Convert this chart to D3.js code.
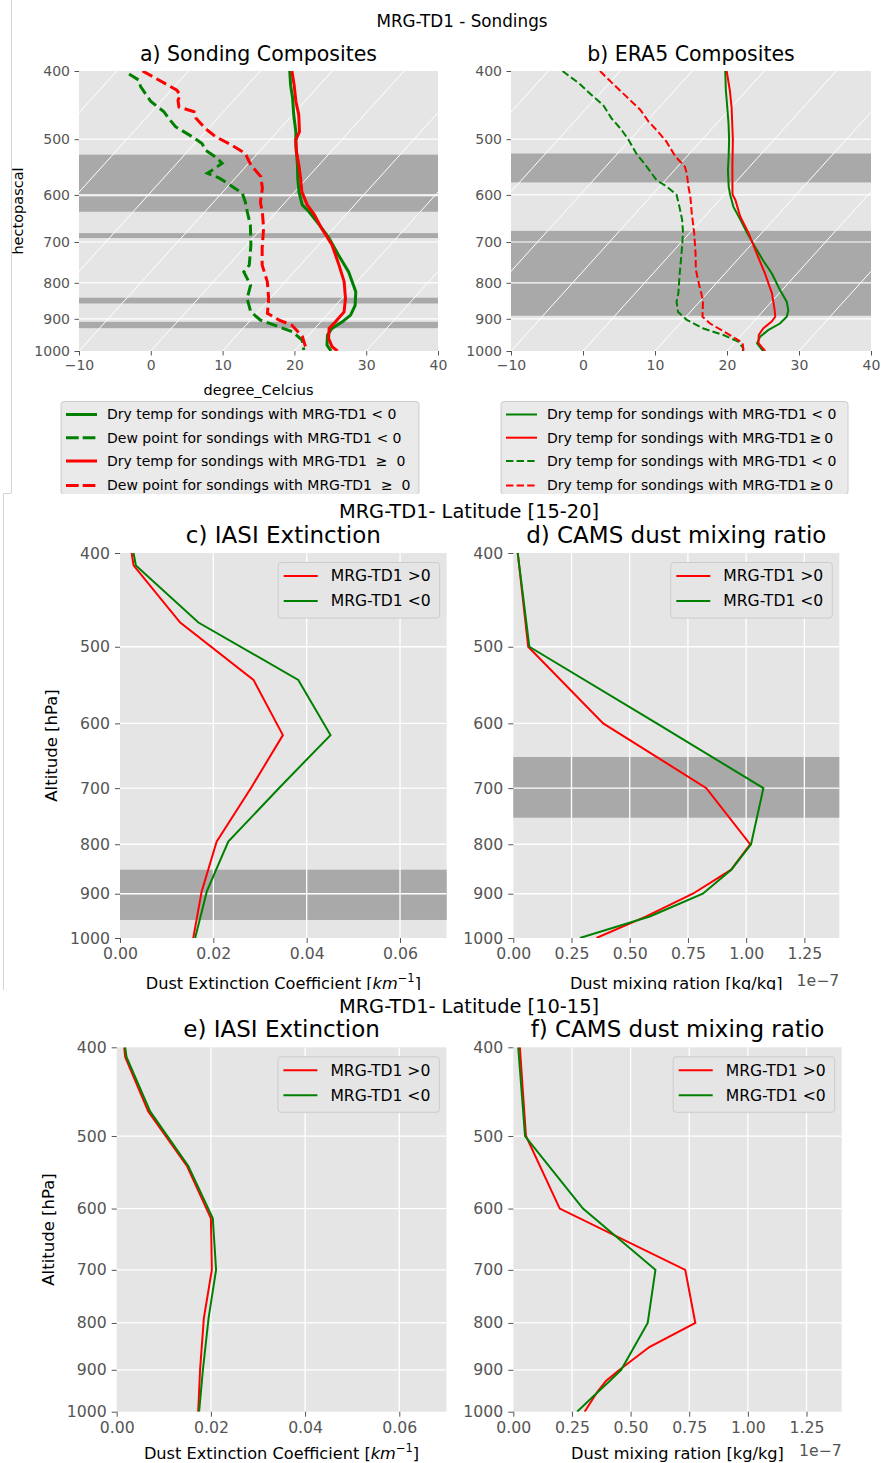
<!DOCTYPE html>
<html><head><meta charset="utf-8">
<script src="https://cdn.jsdelivr.net/npm/d3@7"></script>
<style>
body{margin:0;background:#fff}
text{font-family:"DejaVu Sans",sans-serif}
</style></head>
<body><svg id="chart" width="881" height="1463"></svg>
<script>
// ---------------- DATA ----------------
const pTicks = [400, 500, 600, 700, 800, 900, 1000];
const tTicks = [-10, 0, 10, 20, 30, 40];
const isoTemps = [-40, -30, -20, -10, 0, 10, 20, 30, 40];
const extTicks = [0, 0.02, 0.04, 0.06];
const mixTicks = [0, 0.25e-7, 0.5e-7, 0.75e-7, 1.0e-7, 1.25e-7];

// a) Sonding composites (pressure hPa, temperature °C)
const aDryGreenP = [400, 419, 437, 462, 488, 510, 544, 568, 594, 620, 634, 662, 691, 731, 772, 824, 861, 889, 909, 929, 949, 981, 1000];
const aDryGreenT = [-15.9, -14.0, -12.1, -9.8, -7.4, -5.7, -3.0, -1.3, 0.6, 2.7, 4.5, 7.6, 10.6, 14.1, 17.6, 21.1, 22.7, 23.3, 23.0, 22.4, 22.6, 23.8, 25.1];
const aDewGreenP = [404, 412, 421, 442, 457, 467, 480, 496, 507, 518, 530, 541, 553, 559, 568, 584, 597, 614, 634, 662, 707, 755, 772, 806, 842, 880, 904, 924, 939, 965, 997];
const aDewGreenT = [-37.9, -35.8, -34.7, -31.4, -28.3, -26.8, -24.8, -21.2, -19.0, -17.7, -15.4, -13.7, -14.2, -14.5, -12.2, -9.3, -7.1, -5.6, -4.1, -2.0, 0.6, 2.9, 3.0, 5.6, 6.8, 9.0, 11.4, 14.8, 17.3, 19.7, 21.2];
const aDryRedP = [400, 419, 442, 462, 488, 501, 521, 544, 568, 594, 620, 640, 670, 707, 755, 797, 842, 880, 909, 929, 960, 986, 1000];
const aDryRedT = [-15.6, -13.5, -11.2, -9.1, -6.9, -6.4, -4.8, -2.8, -0.9, 1.0, 3.4, 5.6, 8.4, 11.9, 15.4, 18.2, 20.5, 22.0, 22.05, 22.0, 23.2, 24.7, 26.0];
const aDewRedP = [400, 412, 426, 433, 440, 450, 457, 467, 483, 496, 510, 524, 544, 565, 587, 614, 640, 670, 715, 755, 797, 842, 884, 904, 919, 954, 986, 1000];
const aDewRedT = [-36.4, -33.0, -29.2, -28.1, -27.8, -26.8, -24.1, -23.0, -20.4, -17.95, -14.6, -11.7, -9.5, -6.65, -4.95, -3.5, -1.6, 0.3, 2.6, 4.7, 7.5, 9.8, 11.5, 14.0, 16.4, 19.3, 21.0, 21.5];
const aBands = [[526, 600], [603, 634], [680, 691], [840, 856], [909, 928]];

// b) ERA5 composites
const bDryGreenP = [400, 426, 450, 475, 500, 529, 553, 584, 600, 624, 651, 680, 711, 743, 776, 819, 851, 875, 894, 914, 934, 954, 975, 1000];
const bDryGreenT = [-15.4, -12.9, -10.6, -8.35, -6.3, -4.2, -2.6, -0.4, 0.84, 2.8, 5.4, 8.0, 10.8, 13.6, 16.5, 19.7, 22.1, 23.4, 24.0, 23.9, 23.1, 22.8, 23.2, 25.0];
const bDryRedP = [400, 426, 450, 501, 547, 599, 610, 644, 680, 727, 776, 828, 875, 894, 908, 929, 949, 975, 1000];
const bDryRedT = [-15.2, -12.35, -10.0, -5.7, -2.4, 1.1, 2.2, 4.95, 8.2, 11.9, 15.55, 19.0, 21.5, 22.4, 22.5, 22.2, 22.4, 23.4, 25.3];
const bDewGreenP = [400, 417, 435, 447, 467, 485, 501, 524, 547, 572, 584, 600, 624, 651, 680, 727, 776, 828, 851, 880, 903, 929, 949, 970, 991, 1000];
const bDewGreenT = [-38.0, -34.05, -30.5, -28.1, -25.25, -22.4, -20.2, -17.4, -14.3, -11.2, -9.0, -6.6, -4.7, -2.7, -0.9, 1.45, 3.7, 6.0, 6.8, 8.3, 10.5, 13.9, 17.5, 20.4, 21.9, 22.2];
const bDewRedP = [400, 417, 435, 454, 472, 488, 504, 529, 547, 559, 584, 603, 637, 680, 727, 767, 810, 847, 894, 914, 944, 965, 975, 1000];
const bDewRedT = [-32.8, -29.4, -25.9, -22.35, -19.7, -17.1, -14.7, -11.6, -9.0, -7.9, -6.0, -4.5, -2.2, 0.65, 3.4, 5.5, 8.1, 10.3, 12.3, 14.2, 17.8, 20.2, 21.2, 22.3];
const bBands = [[524, 576], [675, 891]];

// c) IASI extinction, latitude 15-20
const cLevels = [400, 412, 472, 541, 617, 698, 795, 895, 1000];
const cRed = [0.0025, 0.0029, 0.0129, 0.0286, 0.0349, 0.0282, 0.0207, 0.0175, 0.0157];
const cGreen = [0.0029, 0.0034, 0.0168, 0.0382, 0.0451, 0.0343, 0.0232, 0.0186, 0.0161];
const cBands = [[850, 958]];

// d) CAMS dust mixing ratio, latitude 15-20 (kg/kg)
const dLevels = [400, 500, 600, 700, 800, 850, 900, 950, 1000];
const dRed = [0.019e-7, 0.064e-7, 0.386e-7, 0.829e-7, 1.017e-7, 0.936e-7, 0.771e-7, 0.571e-7, 0.357e-7];
const dGreen = [0.019e-7, 0.069e-7, 0.616e-7, 1.074e-7, 1.021e-7, 0.936e-7, 0.814e-7, 0.586e-7, 0.286e-7];
const dBands = [[650, 751]];

// e) IASI extinction, latitude 10-15
const eLevels = [400, 410, 470, 539, 615, 700, 791, 900, 1000];
const eRed = [0.0016, 0.0018, 0.0067, 0.0149, 0.0200, 0.0202, 0.0185, 0.0177, 0.0173];
const eGreen = [0.0018, 0.0021, 0.0071, 0.0152, 0.0204, 0.0211, 0.0195, 0.0183, 0.0175];

// f) CAMS dust mixing ratio, latitude 10-15
const fLevels = [400, 500, 600, 700, 800, 850, 900, 925, 950, 1000];
const fRed = [0.028e-7, 0.054e-7, 0.198e-7, 0.733e-7, 0.776e-7, 0.58e-7, 0.453e-7, 0.396e-7, 0.36e-7, 0.304e-7];
const fGreen = [0.021e-7, 0.05e-7, 0.297e-7, 0.606e-7, 0.573e-7, 0.515e-7, 0.46e-7, 0.412e-7, 0.364e-7, 0.272e-7];

const legendA = ["Dry temp for sondings with MRG-TD1 < 0", "Dew point for sondings with MRG-TD1 < 0",
  "Dry temp for sondings with MRG-TD1  \u2265  0", "Dew point for sondings with MRG-TD1  \u2265  0"];
const legendB = ["Dry temp for sondings with MRG-TD1 < 0", "Dry temp for sondings with MRG-TD1\u2009\u2265\u20090",
  "Dry temp for sondings with MRG-TD1 < 0", "Dry temp for sondings with MRG-TD1\u2009\u2265\u20090"];
const legendProf = ["MRG-TD1 >0", "MRG-TD1 <0"];

// ---------------- STYLE ----------------
const BG = "#E5E5E5", BAND = "#A9A9A9", TICK = "#555555", RED = "#FF0000", GREEN = "#008000";
const SKEW = 0.904;
const svg = d3.select("#chart");
const defs = svg.append("defs");
let clipN = 0;
function clip(x, y, w, h) {
  const id = "cl" + (clipN++);
  defs.append("clipPath").attr("id", id).append("rect").attr("x", x).attr("y", y).attr("width", w).attr("height", h);
  return "url(#" + id + ")";
}
const secTop = svg.append("g").attr("clip-path", clip(0, 0, 881, 494));
const secMid = svg.append("g").attr("clip-path", clip(0, 494, 881, 496));
const secBot = svg.append("g").attr("clip-path", clip(0, 990, 881, 473));

// section borders
svg.append("line").attr("x1", 11.5).attr("x2", 11.5).attr("y1", 0).attr("y2", 493).attr("stroke", "#d4d4d4");
svg.append("line").attr("x1", 3.5).attr("x2", 11.5).attr("y1", 493.5).attr("y2", 493.5).attr("stroke", "#d4d4d4");
svg.append("line").attr("x1", 3.5).attr("x2", 3.5).attr("y1", 493.5).attr("y2", 990).attr("stroke", "#d4d4d4");

function styleAxis(g, fs) {
  g.select(".domain").remove();
  g.attr("font-family", '"DejaVu Sans",sans-serif').attr("font-size", fs);
  g.selectAll(".tick line").attr("stroke", TICK);
  g.selectAll(".tick text").attr("fill", TICK);
}

function skewPanel(g, o) {
  const x = d3.scaleLinear().domain([-10, 40]).range([o.x0, o.x1]);
  const y = d3.scaleLog().domain([400, 1000]).range([o.y0, o.y1]);
  const sx = (T, p) => x(T) + SKEW * (o.y1 - y(p));
  g.append("rect").attr("x", o.x0).attr("y", o.y0).attr("width", o.x1 - o.x0).attr("height", o.y1 - o.y0).attr("fill", BG);
  g.selectAll(null).data(o.bands).join("rect")
    .attr("x", o.x0).attr("width", o.x1 - o.x0)
    .attr("y", d => y(d[0])).attr("height", d => y(d[1]) - y(d[0])).attr("fill", BAND);
  const pg = g.append("g").attr("clip-path", clip(o.x0, o.y0, o.x1 - o.x0, o.y1 - o.y0));
  pg.selectAll(null).data(pTicks.slice(1, -1)).join("line")
    .attr("x1", o.x0).attr("x2", o.x1).attr("y1", d => y(d)).attr("y2", d => y(d))
    .attr("stroke", "#fff").attr("stroke-width", 1.2);
  pg.selectAll(null).data(isoTemps).join("line")
    .attr("x1", d => x(d)).attr("y1", o.y1)
    .attr("x2", d => x(d) + SKEW * (o.y1 - o.y0)).attr("y2", o.y0)
    .attr("stroke", "#fff").attr("stroke-width", 1);
  const line = d3.line().x(d => sx(d[1], d[0])).y(d => y(d[0]));
  o.series.forEach(s => {
    pg.append("path").attr("d", line(d3.zip(s.p, s.t))).attr("fill", "none")
      .attr("stroke", s.c).attr("stroke-width", o.lw)
      .attr("stroke-dasharray", s.dash ? o.dash : null);
  });
  const ya = g.append("g").attr("transform", `translate(${o.x0},0)`)
    .call(d3.axisLeft(y).tickValues(pTicks).tickFormat(d3.format("d")).tickSize(4.5).tickPadding(4.5));
  styleAxis(ya, 14);
  const xa = g.append("g").attr("transform", `translate(0,${o.y1})`)
    .call(d3.axisBottom(x).tickValues(tTicks).tickFormat(d3.format("d")).tickSize(4.5).tickPadding(4.5));
  styleAxis(xa, 14);
  g.append("text").attr("x", (o.x0 + o.x1) / 2).attr("y", 61).attr("text-anchor", "middle")
    .attr("font-size", 20.5).text(o.title);
  // legend
  const L = o.legend;
  g.append("rect").attr("x", L.x0).attr("y", 401.5).attr("width", L.x1 - L.x0).attr("height", 93)
    .attr("rx", 3).attr("fill", "#EAEAEA").attr("stroke", "#CCCCCC");
  o.series.forEach((s, i) => {
    const yy = [414.5, 437.7, 461, 485.5][i];
    g.append("line").attr("x1", L.x0 + 5).attr("x2", L.x0 + 36).attr("y1", yy).attr("y2", yy)
      .attr("stroke", s.c).attr("stroke-width", o.lw).attr("stroke-dasharray", s.dash ? o.legDash : null);
    g.append("text").attr("x", L.x0 + 46).attr("y", yy).attr("dy", "0.35em").attr("font-size", 14)
      .style("white-space", "pre").text(L.labels[i]);
  });
}

skewPanel(secTop, {
  x0: 79, x1: 438, y0: 71, y1: 351, lw: 3, dash: "11.1,4.8", legDash: "12.7,4", bands: aBands,
  title: "a) Sonding Composites",
  series: [
    { p: aDryGreenP, t: aDryGreenT, c: GREEN, dash: false },
    { p: aDewGreenP, t: aDewGreenT, c: GREEN, dash: true },
    { p: aDryRedP, t: aDryRedT, c: RED, dash: false },
    { p: aDewRedP, t: aDewRedT, c: RED, dash: true }],
  legend: { x0: 61, x1: 419, labels: legendA }
});
skewPanel(secTop, {
  x0: 511, x1: 871, y0: 71, y1: 351, lw: 2, dash: "7.4,3.2", legDash: "7.4,3.2", bands: bBands,
  title: "b) ERA5 Composites",
  series: [
    { p: bDryGreenP, t: bDryGreenT, c: GREEN, dash: false },
    { p: bDryRedP, t: bDryRedT, c: RED, dash: false },
    { p: bDewGreenP, t: bDewGreenT, c: GREEN, dash: true },
    { p: bDewRedP, t: bDewRedT, c: RED, dash: true }],
  legend: { x0: 501, x1: 848, labels: legendB }
});
secTop.append("text").attr("x", 462).attr("y", 27).attr("text-anchor", "middle").attr("font-size", 16.8).text("MRG-TD1 - Sondings");
secTop.append("text").attr("transform", "translate(23,211) rotate(-90)").attr("text-anchor", "middle").attr("font-size", 14.5).text("hectopascal");
secTop.append("text").attr("x", 258.5).attr("y", 395).attr("text-anchor", "middle").attr("font-size", 14.5).text("degree_Celcius");

function profPanel(g, o) {
  const x = d3.scaleLinear().domain(o.xdom).range([o.x0, o.x1]);
  const y = d3.scaleLog().domain([400, 1000]).range([o.y0, o.y1]);
  g.append("rect").attr("x", o.x0).attr("y", o.y0).attr("width", o.x1 - o.x0).attr("height", o.y1 - o.y0).attr("fill", BG);
  g.selectAll(null).data(o.bands || []).join("rect")
    .attr("x", o.x0).attr("width", o.x1 - o.x0)
    .attr("y", d => y(d[0])).attr("height", d => y(d[1]) - y(d[0])).attr("fill", BAND);
  const pg = g.append("g").attr("clip-path", clip(o.x0, o.y0, o.x1 - o.x0, o.y1 - o.y0));
  pg.selectAll(null).data(pTicks.slice(1, -1)).join("line")
    .attr("x1", o.x0).attr("x2", o.x1).attr("y1", d => y(d)).attr("y2", d => y(d))
    .attr("stroke", "#fff").attr("stroke-width", 1.3);
  pg.selectAll(null).data(o.xticks.slice(1)).join("line")
    .attr("x1", d => x(d)).attr("x2", d => x(d)).attr("y1", o.y0).attr("y2", o.y1)
    .attr("stroke", "#fff").attr("stroke-width", 1.3);
  const line = d3.line().x(d => x(d[1])).y(d => y(d[0]));
  o.series.forEach(s => {
    pg.append("path").attr("d", line(d3.zip(o.levels, s.v))).attr("fill", "none")
      .attr("stroke", s.c).attr("stroke-width", 2);
  });
  const ya = g.append("g").attr("transform", `translate(${o.x0},0)`)
    .call(d3.axisLeft(y).tickValues(pTicks).tickFormat(d3.format("d")).tickSize(5).tickPadding(5));
  styleAxis(ya, 15.7);
  const xa = g.append("g").attr("transform", `translate(0,${o.y1})`)
    .call(d3.axisBottom(x).tickValues(o.xticks).tickFormat(o.fmt).tickSize(5).tickPadding(5));
  styleAxis(xa, 15.7);
  g.append("text").attr("x", (o.x0 + o.x1) / 2).attr("y", o.titleY).attr("text-anchor", "middle")
    .attr("font-size", 23).text(o.title);
  // legend
  const lx0 = o.x1 - 168.5, ly0 = o.y0 + 9.5;
  g.append("rect").attr("x", lx0).attr("y", ly0).attr("width", 161.5).attr("height", 55.5)
    .attr("rx", 3).attr("fill", BG).attr("stroke", "#CCCCCC");
  o.series.forEach((s, i) => {
    const yy = ly0 + 13.5 + i * 25;
    g.append("line").attr("x1", lx0 + 5.5).attr("x2", lx0 + 39.5).attr("y1", yy).attr("y2", yy)
      .attr("stroke", s.c).attr("stroke-width", 2);
    g.append("text").attr("x", lx0 + 52.5).attr("y", yy).attr("dy", "0.35em").attr("font-size", 15.6).text(legendProf[i]);
  });
  // x label
  const xl = g.append("text").attr("x", (o.x0 + o.x1) / 2).attr("y", o.xlabY).attr("text-anchor", "middle").attr("font-size", 16.2);
  if (o.ext) {
    xl.append("tspan").text("Dust Extinction Coefficient [");
    xl.append("tspan").attr("font-style", "italic").text("km");
    xl.append("tspan").attr("font-size", 11.5).attr("dy", -7).text("\u22121");
    xl.append("tspan").attr("dy", 7).text("]");
  } else {
    xl.text("Dust mixing ration [kg/kg]");
    g.append("text").attr("x", o.x1).attr("y", o.xlabY - 3).attr("text-anchor", "end")
      .attr("font-size", 15.7).attr("fill", TICK).text("1e\u22127");
  }
  if (o.ylab) {
    g.append("text").attr("transform", `translate(${o.ylabX},${(o.y0 + o.y1) / 2}) rotate(-90)`)
      .attr("text-anchor", "middle").attr("font-size", 16.5).text("Altitude [hPa]");
  }
}
const extFmt = d3.format(".2f");
const mixFmt = d => (d / 1e-7).toFixed(2);

profPanel(secMid, { x0: 120, x1: 446.7, y0: 553, y1: 938, xdom: [0, 0.07], xticks: extTicks, fmt: extFmt,
  levels: cLevels, bands: cBands, series: [{ v: cRed, c: RED }, { v: cGreen, c: GREEN }],
  title: "c) IASI Extinction", titleY: 543, ext: true, xlabY: 989, ylab: true, ylabX: 57 });
profPanel(secMid, { x0: 513.3, x1: 839.3, y0: 553, y1: 938, xdom: [0, 1.4e-7], xticks: mixTicks, fmt: mixFmt,
  levels: dLevels, bands: dBands, series: [{ v: dRed, c: RED }, { v: dGreen, c: GREEN }],
  title: "d) CAMS dust mixing ratio", titleY: 543, ext: false, xlabY: 989 });
secMid.append("text").attr("x", 469).attr("y", 518).attr("text-anchor", "middle").attr("font-size", 19.4).text("MRG-TD1- Latitude [15-20]");

profPanel(secBot, { x0: 116.7, x1: 446.4, y0: 1047.3, y1: 1411.7, xdom: [0, 0.07], xticks: extTicks, fmt: extFmt,
  levels: eLevels, bands: [], series: [{ v: eRed, c: RED }, { v: eGreen, c: GREEN }],
  title: "e) IASI Extinction", titleY: 1036.7, ext: true, xlabY: 1459, ylab: true, ylabX: 54 });
profPanel(secBot, { x0: 513.3, x1: 841.7, y0: 1047.3, y1: 1411.7, xdom: [0, 1.4e-7], xticks: mixTicks, fmt: mixFmt,
  levels: fLevels, bands: [], series: [{ v: fRed, c: RED }, { v: fGreen, c: GREEN }],
  title: "f) CAMS dust mixing ratio", titleY: 1036.7, ext: false, xlabY: 1459 });
secBot.append("text").attr("x", 469).attr("y", 1013).attr("text-anchor", "middle").attr("font-size", 19.4).text("MRG-TD1- Latitude [10-15]");
</script></body></html>
